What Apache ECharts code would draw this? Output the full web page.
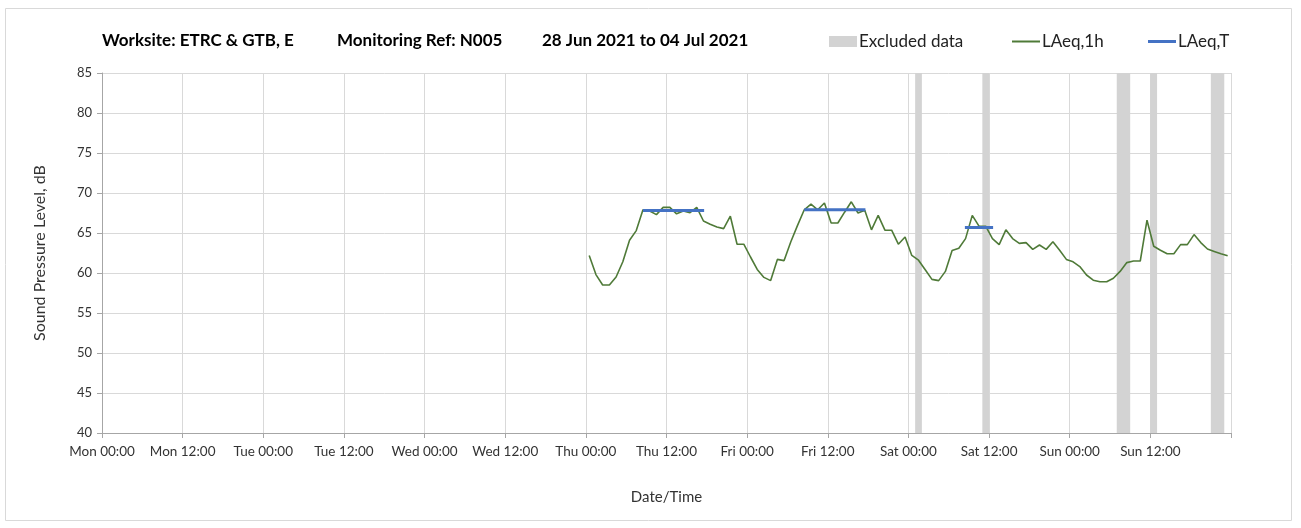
<!DOCTYPE html>
<html>
<head>
<meta charset="utf-8">
<script src="https://cdn.jsdelivr.net/npm/echarts@6/dist/echarts.min.js"></script>
<style>
  html, body { margin: 0; padding: 0; background: #fff; }
  #chart { width: 1301px; height: 528px; }
</style>
</head>
<body>
<div id="chart"></div>
<script>
// x axis tick labels, one every 12 hours from Mon 00:00
const xTickLabels = [
  'Mon 00:00', 'Mon 12:00', 'Tue 00:00', 'Tue 12:00', 'Wed 00:00', 'Wed 12:00',
  'Thu 00:00', 'Thu 12:00', 'Fri 00:00', 'Fri 12:00', 'Sat 00:00', 'Sat 12:00',
  'Sun 00:00', 'Sun 12:00'
];

// LAeq,1h hourly values (dB), first value at hour 72.5 (Thu 00:30), one per hour
const firstHour = 72.5;
const laeq1h = [
  62.2, 59.8, 58.5, 58.5, 59.5, 61.4, 64.1, 65.3, 67.9, 67.75, 67.3, 68.2,
  68.2, 67.4, 67.75, 67.55, 68.2, 66.5, 66.1, 65.75, 65.55, 67.1, 63.6, 63.6,
  62.0, 60.45, 59.45, 59.05, 61.7, 61.55, 63.9, 65.95, 67.9, 68.6, 67.9, 68.75,
  66.25, 66.25, 67.6, 68.9, 67.5, 67.85, 65.4, 67.2, 65.35, 65.35, 63.6, 64.5,
  62.2, 61.6, 60.4, 59.2, 59.05, 60.2, 62.8, 63.1, 64.3, 67.2, 65.85, 65.85,
  64.3, 63.55, 65.4, 64.3, 63.7, 63.8, 62.95, 63.5, 62.95, 63.9, 62.85, 61.7,
  61.4, 60.8, 59.75, 59.1, 58.9, 58.9, 59.35, 60.2, 61.3, 61.5, 61.5, 66.6,
  63.35, 62.85, 62.4, 62.4, 63.55, 63.55, 64.8, 63.8, 63.0, 62.7, 62.4, 62.15
];

// LAeq,T periods: [start hour, end hour, level dB]
const laeqT = [
  [80.5, 89.6, 67.8],
  [104.5, 113.6, 67.9],
  [128.4, 132.6, 65.7]
];

// excluded data periods: [start hour, end hour]
const excluded = [
  [121, 122],
  [131, 132],
  [151, 153],
  [156, 157],
  [165, 167]
];

const FONT = 'Lato, "Open Sans", sans-serif';

const myChart = echarts.init(document.getElementById('chart'));

const lineData = laeq1h.map((v, i) => [firstHour + i, v]);
const tData = [];
laeqT.forEach((p) => {
  tData.push([p[0], p[2]], [p[1], p[2]], [p[1], '-']);
});

const option = {
  animation: false,
  textStyle: { fontFamily: FONT },
  title: [
    { text: 'Worksite: ETRC & GTB, E', left: 102, top: 32 },
    { text: 'Monitoring Ref: N005', left: 337, top: 32 },
    { text: '28 Jun 2021 to 04 Jul 2021', left: 542, top: 32 }
  ].map((t) => ({
    ...t,
    padding: 0,
    textStyle: { fontFamily: FONT, fontSize: 17, fontWeight: 'bold', color: '#000' }
  })),
  legend: [
    { data: ['Excluded data'], left: 829, itemHeight: 11 },
    { data: ['LAeq,1h'], left: 1012, itemHeight: 2 },
    { data: ['LAeq,T'], left: 1148, itemHeight: 3 }
  ].map((l) => ({
    ...l,
    top: 33,
    icon: 'rect',
    itemWidth: 28,
    itemGap: 4,
    padding: 0,
    textStyle: { fontFamily: FONT, fontSize: 17, color: '#222', padding: [0, 0, 0, -3] }
  })),
  graphic: [
    {
      type: 'rect',
      shape: { x: 5.5, y: 8.5, width: 1286, height: 512 },
      style: { fill: 'none', stroke: '#d9d9d9', lineWidth: 1 },
      silent: true
    }
  ],
  grid: { left: 102, right: 70, top: 73, bottom: 95 },
  xAxis: {
    type: 'value',
    min: 0,
    max: 168,
    interval: 12,
    name: 'Date/Time',
    nameLocation: 'middle',
    nameGap: 57,
    nameTextStyle: { fontFamily: FONT, fontSize: 15, color: '#333' },
    axisLine: { lineStyle: { color: '#a6a6a6', width: 1 } },
    axisTick: { show: true, length: 5, lineStyle: { color: '#a6a6a6' } },
    axisLabel: {
      color: '#333',
      fontSize: 13.5,
      margin: 12,
      showMaxLabel: true,
      formatter: (v) => xTickLabels[Math.round(v / 12)] || ''
    },
    splitLine: { show: true, lineStyle: { color: '#d9d9d9', width: 1 } }
  },
  yAxis: {
    type: 'value',
    min: 40,
    max: 85,
    interval: 5,
    name: 'Sound Pressure Level, dB',
    nameLocation: 'middle',
    nameGap: 54,
    nameTextStyle: { fontFamily: FONT, fontSize: 16, color: '#333' },
    axisLine: { show: true, lineStyle: { color: '#a6a6a6', width: 1 } },
    axisTick: { show: true, length: 5, lineStyle: { color: '#a6a6a6' } },
    axisLabel: { color: '#333', fontSize: 13, margin: 10 },
    splitLine: { show: true, lineStyle: { color: '#d9d9d9', width: 1 } }
  },
  series: [
    {
      name: 'Excluded data',
      type: 'line',
      data: [],
      itemStyle: { color: '#d3d3d3' },
      markArea: {
        silent: true,
        itemStyle: { color: '#d3d3d3' },
        data: excluded.map((e) => [{ xAxis: e[0] }, { xAxis: e[1] }])
      },
      z: 1
    },
    {
      name: 'LAeq,1h',
      type: 'line',
      data: lineData,
      showSymbol: false,
      symbol: 'none',
      lineStyle: { color: '#4f7a38', width: 1.6 },
      itemStyle: { color: '#4f7a38' },
      z: 3
    },
    {
      name: 'LAeq,T',
      type: 'line',
      data: tData,
      showSymbol: false,
      symbol: 'none',
      connectNulls: false,
      lineStyle: { color: '#4472c4', width: 3, cap: 'butt' },
      itemStyle: { color: '#4472c4' },
      z: 4
    }
  ]
};

myChart.setOption(option);
</script>
</body>
</html>
